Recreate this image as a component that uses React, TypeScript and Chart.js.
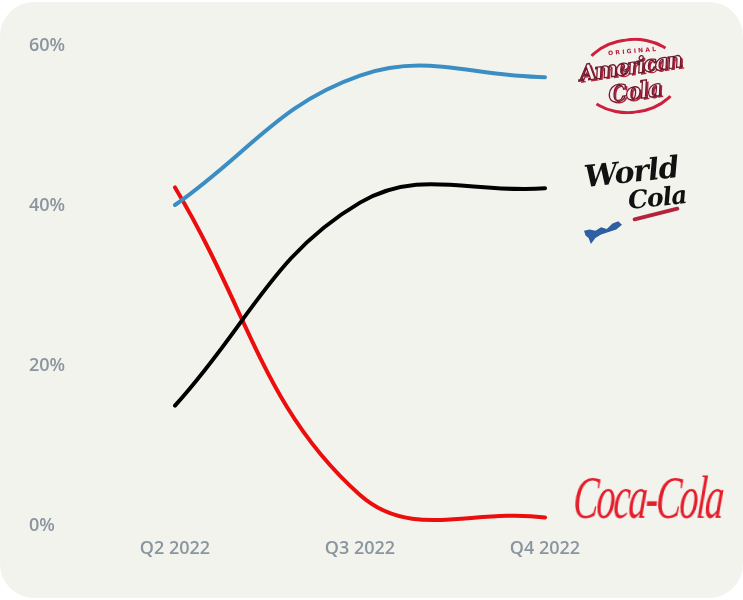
import React, { useEffect, useRef } from "react";
import { Chart, registerables } from "chart.js";

Chart.register(...registerables);

const quarters = ["Q2 2022", "Q3 2022", "Q4 2022"];
const americanCola = [40.1, 56.3, 56.1];
const worldCola = [15, 40.4, 42.2];
const cocaCola = [42.3, 3.8, 1];
const yTicks = [0, 20, 40, 60];

const tickColor = "#8a959e";
const tickFont = { family: "'Open Sans', 'Noto Sans', sans-serif", size: 18, weight: 600 as const };

export default function App() {
  const canvasRef = useRef<HTMLCanvasElement | null>(null);

  useEffect(() => {
    if (!canvasRef.current) return;
    const chart = new Chart(canvasRef.current, {
      type: "line",
      data: {
        labels: quarters,
        datasets: [
          { label: "Original American Cola", data: americanCola, borderColor: "#3a8ec3" },
          { label: "World Cola", data: worldCola, borderColor: "#000000" },
          { label: "Coca-Cola", data: cocaCola, borderColor: "#ec0d0d" },
        ],
      },
      options: {
        animation: false,
        responsive: false,
        maintainAspectRatio: false,
        layout: { padding: { left: 29, right: 198, top: 46, bottom: 35 } },
        plugins: { legend: { display: false }, tooltip: { enabled: false } },
        elements: {
          point: { radius: 0 },
          line: { tension: 0.4, borderWidth: 4, borderCapStyle: "round", fill: false, capBezierPoints: false },
        },
        scales: {
          x: {
            offset: false,
            grid: { display: false },
            border: { display: false },
            ticks: { color: tickColor, font: tickFont, padding: 5, maxRotation: 0 },
          },
          y: {
            min: 0,
            max: 60,
            grid: { display: false },
            border: { display: false },
            afterFit: (s: any) => {
              s.width = 146;
            },
            afterBuildTicks: (s: any) => {
              s.ticks = yTicks.map((v) => ({ value: v }));
            },
            ticks: {
              color: tickColor,
              font: tickFont,
              crossAlign: "far",
              callback: (v: any) => v + "%",
            },
          },
        },
      },
    });
    return () => chart.destroy();
  }, []);

  const script = "'DejaVu Serif', 'Liberation Serif', serif";

  return (
    <div style={{ position: "fixed", left: 0, top: 0, width: 743, height: 600, background: "#ffffff", overflow: "hidden" }}>
      <div
        style={{
          position: "absolute",
          left: 0,
          top: 2,
          width: 743,
          height: 596,
          borderRadius: 34,
          background: "#f3f3ee",
        }}
      />
      <canvas ref={canvasRef} width={743} height={600} style={{ position: "absolute", left: 0, top: 0 }} />

      {/* Original American Cola logo */}
      <div style={{ position: "absolute", left: 578, top: 37, width: 104, height: 76 }}>
        <div
          style={{
            position: "absolute",
            left: 2,
            top: 1,
            width: 96,
            height: 70,
            borderRadius: "50%",
            borderTop: "3px solid #cf1f3c",
            borderBottom: "3px solid #cf1f3c",
            borderLeft: "3px solid transparent",
            borderRight: "3px solid transparent",
            transform: "rotate(-6deg)",
          }}
        />
        <div
          style={{
            position: "absolute",
            left: 30,
            top: 10,
            fontFamily: "'DejaVu Sans', sans-serif",
            fontSize: 6,
            fontWeight: 700,
            letterSpacing: 2.2,
            color: "#b8203a",
            transform: "rotate(-5deg)",
          }}
        >
          ORIGINAL
        </div>
        <div
          style={{
            position: "absolute",
            left: 1,
            top: 16,
            fontFamily: script,
            fontStyle: "italic",
            fontWeight: 700,
            fontSize: 22,
            color: "#fbeef0",
            WebkitTextStroke: "1.3px #6e1a2c",
            textShadow: "2px 2px 0 #b3233d",
            transform: "rotate(-8deg)",
            letterSpacing: -2,
            whiteSpace: "nowrap",
          }}
        >
          American
        </div>
        <div
          style={{
            position: "absolute",
            left: 30,
            top: 40,
            fontFamily: script,
            fontStyle: "italic",
            fontWeight: 700,
            fontSize: 23,
            color: "#fbeef0",
            WebkitTextStroke: "1.3px #6e1a2c",
            textShadow: "2px 2px 0 #b3233d",
            transform: "rotate(-8deg)",
            letterSpacing: -1,
            whiteSpace: "nowrap",
          }}
        >
          Cola
        </div>
      </div>

      {/* World Cola logo */}
      <div style={{ position: "absolute", left: 582, top: 152, width: 110, height: 95 }}>
        <div
          style={{
            position: "absolute",
            left: 2,
            top: 2,
            fontFamily: script,
            fontStyle: "italic",
            fontWeight: 700,
            fontSize: 30,
            color: "#111",
            transform: "rotate(-6deg)",
            whiteSpace: "nowrap",
            letterSpacing: -1,
          }}
        >
          World
        </div>
        <div
          style={{
            position: "absolute",
            left: 46,
            top: 31,
            fontFamily: script,
            fontStyle: "italic",
            fontWeight: 700,
            fontSize: 25,
            color: "#111",
            transform: "rotate(-6deg)",
            whiteSpace: "nowrap",
            letterSpacing: -1,
          }}
        >
          Cola
        </div>
        <div
          style={{
            position: "absolute",
            left: 50,
            top: 60,
            width: 48,
            height: 4,
            background: "#b3233d",
            borderRadius: 3,
            transform: "rotate(-14deg)",
          }}
        />
        <div
          style={{
            position: "absolute",
            left: 2,
            top: 68,
            width: 38,
            height: 24,
            background: "#2f5fa3",
            clipPath:
              "polygon(0% 45%, 15% 40%, 30% 45%, 45% 30%, 60% 38%, 75% 15%, 90% 5%, 100% 20%, 85% 40%, 65% 50%, 45% 60%, 30% 75%, 18% 100%, 12% 75%, 4% 65%)",
          }}
        />
      </div>

      {/* Coca-Cola logo */}
      <div
        style={{
          position: "absolute",
          left: 576,
          top: 462,
          fontFamily: "'Liberation Serif', 'DejaVu Serif', serif",
          fontStyle: "italic",
          fontSize: 38,
          color: "#e41d2a",
          transform: "scaleY(1.6) skewX(-6deg)",
          transformOrigin: "left top",
          letterSpacing: -2,
          whiteSpace: "nowrap",
        }}
      >
        Coca-Cola
      </div>
    </div>
  );
}
